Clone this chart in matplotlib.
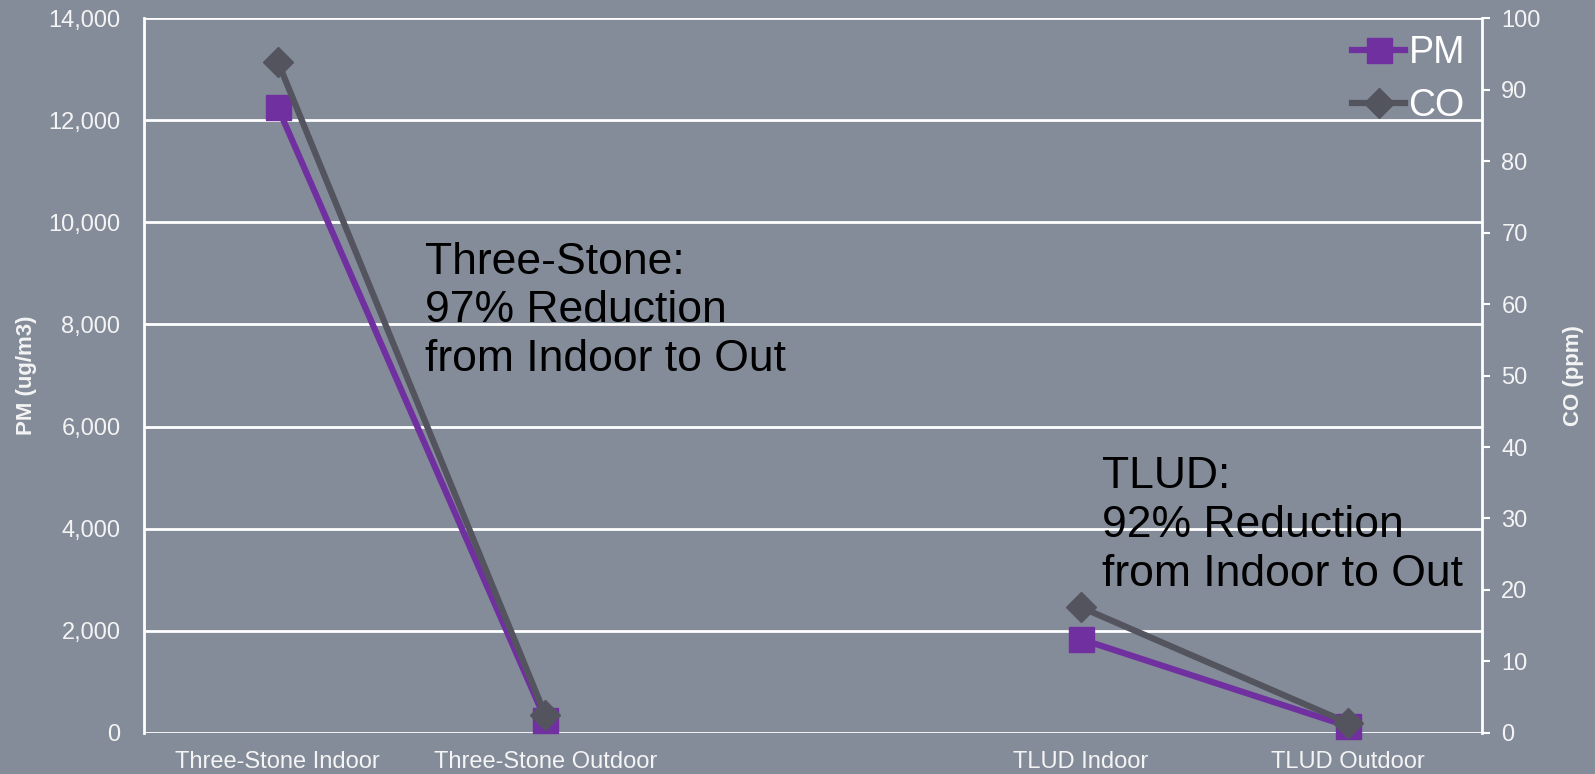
import numpy as np
import matplotlib.pyplot as plt

plt.rcParams['font.family'] = ['Liberation Sans', 'DejaVu Sans']

# data (blank middle category)
categories = ['Three-Stone Indoor', 'Three-Stone Outdoor', '', 'TLUD Indoor', 'TLUD Outdoor']
pm_values = [12250, 260, np.nan, 1840, 130]
co_values = [93.9, 2.5, np.nan, 17.6, 1.4]

pm_ticks = np.arange(0, 14001, 2000)
co_ticks = np.arange(0, 101, 10)

bg = '#848C9A'
pm_color = '#7030A0'
co_color = '#54545F'
txt = '#F4F4F4'

fig = plt.figure(figsize=(15.95, 7.74), dpi=100, facecolor=bg)
ax = fig.add_axes([0.0903, 0.053, 0.8388, 0.9237])
ax.set_facecolor(bg)
ax2 = ax.twinx()

x = np.arange(len(categories))

# PM on left axis
ax.plot(x, pm_values, color=pm_color, lw=4.5, marker='s', ms=18,
        label='PM', clip_on=False, zorder=3)
ax.set_ylim(0, 14000)
ax.set_yticks(pm_ticks)
ax.set_yticklabels([f'{v:,}' for v in pm_ticks])
ax.set_xlim(-0.5, len(categories) - 0.5)
ax.set_xticks(x)
ax.set_xticklabels(categories)
ax.grid(axis='y', color='white', lw=2)
ax.set_axisbelow(True)
ax.tick_params(axis='y', length=0, labelsize=17, labelcolor=txt, pad=17)
ax.tick_params(axis='x', length=0, labelsize=17, labelcolor=txt, pad=13)
ax.set_ylabel('PM (ug/m3)', fontsize=16, fontweight='bold', color=txt, labelpad=8)

# CO on right axis
ax2.plot(x, co_values, color=co_color, lw=4.5, marker='D', ms=15,
         label='CO', clip_on=False, zorder=3)
ax2.set_ylim(0, 100)
ax2.set_yticks(co_ticks)
ax2.tick_params(axis='y', length=6, width=1.5, color='white', direction='out',
                labelsize=17, labelcolor=txt, pad=8)
ax2.set_ylabel('CO (ppm)', fontsize=16, fontweight='bold', color=txt, labelpad=16)

for a in (ax, ax2):
    for s in a.spines.values():
        s.set_visible(False)
ax.spines['left'].set_visible(True)
ax.spines['left'].set_color('white')
ax.spines['left'].set_linewidth(2)
ax2.spines['right'].set_visible(True)
ax2.spines['right'].set_color('white')
ax2.spines['right'].set_linewidth(2)

# annotations
ax.text(0.21, 0.687, 'Three-Stone:\n97% Reduction\nfrom Indoor to Out',
        transform=ax.transAxes, fontsize=32, color='black', va='top',
        linespacing=1.24)
ax.text(0.716, 0.387, 'TLUD:\n92% Reduction\nfrom Indoor to Out',
        transform=ax.transAxes, fontsize=32, color='black', va='top',
        linespacing=1.24)

h1, l1 = ax.get_legend_handles_labels()
h2, l2 = ax2.get_legend_handles_labels()
leg = ax2.legend(h1 + h2, l1 + l2, loc='upper right', frameon=False,
                 fontsize=27, handlelength=1.4, handletextpad=0.1,
                 labelspacing=0.45, borderaxespad=0.05, markerscale=1.0)
for t in leg.get_texts():
    t.set_color('white')

fig.savefig('out.png', dpi=100, facecolor=bg)
